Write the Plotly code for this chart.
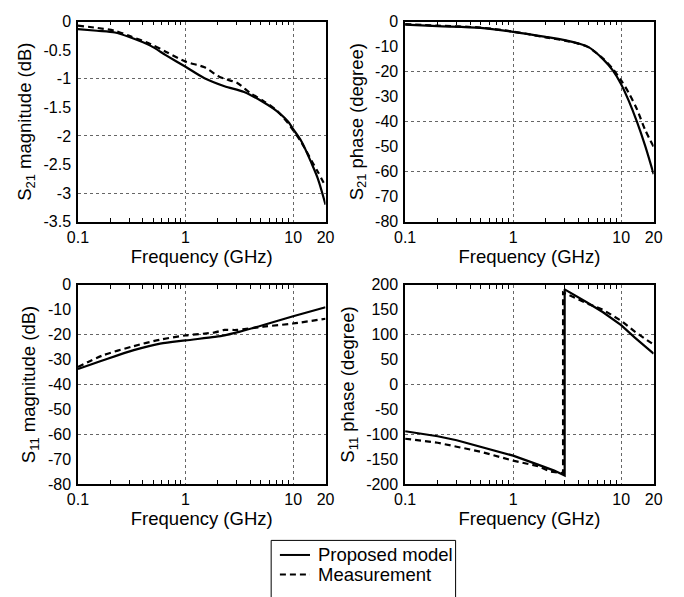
import plotly.graph_objects as go

# ---- S21 magnitude (dB) ----
f_s21mag_model = [0.1, 0.15, 0.22, 0.3, 0.47, 0.66, 1.0, 1.5, 2.3, 3.5, 5.3, 7, 9, 10, 12, 15, 17, 20]
s21mag_model = [-0.13, -0.16, -0.19, -0.27, -0.42, -0.59, -0.79, -0.99, -1.13, -1.23, -1.41,
                -1.56, -1.75, -1.88, -2.1, -2.5, -2.75, -3.2]
f_s21mag_meas = [0.1, 0.15, 0.22, 0.3, 0.47, 0.66, 1.0, 1.5, 2.0, 2.3, 3.0, 4.0, 5.3, 7, 9, 10,
                 12, 15, 17, 20]
s21mag_meas = [-0.07, -0.11, -0.16, -0.25, -0.39, -0.53, -0.70, -0.80, -0.95, -1.0, -1.07, -1.25,
               -1.39, -1.55, -1.78, -1.9, -2.12, -2.45, -2.63, -2.88]

# ---- S21 phase (degree) ----
f_s21ph = [0.1, 0.2, 0.5, 1, 2, 3, 4, 5, 6.8, 8.4, 10, 11.8, 14, 16.7, 20]
s21ph_model = [-1.2, -1.8, -2.5, -4.1, -6.1, -7.4, -8.7, -10.2, -15.0, -19.6, -25.0, -31.8, -40.0,
               -49.7, -61.0]
s21ph_meas = [-1.0, -1.6, -2.4, -4.0, -6.3, -7.6, -8.8, -10.3, -14.8, -19.0, -23.5, -28.6, -35.0,
              -43.3, -50.0]

# ---- S11 magnitude (dB) ----
f_s11mag = [0.1, 0.166, 0.33, 0.58, 1.0, 1.87, 2.3, 3.0, 5.3, 10, 20]
s11mag_model = [-33.8, -30.5, -26.2, -23.6, -22.3, -20.9, -20.3, -19.1, -16.1, -12.6, -9.0]
s11mag_meas = [-33.0, -28.5, -24.6, -22.0, -20.3, -19.1, -18.1, -18.1, -16.8, -15.5, -13.6]

# ---- S11 phase (degree) ----
f_s11ph_model = [0.1, 0.2, 0.3, 0.5, 1.0, 1.7, 2.4, 3.0, 3.0, 4.8, 6.8, 10, 13.4, 20]
s11ph_model = [-94, -104, -112, -125, -143, -161, -173, -183, 191, 165, 145, 119, 94, 62]
f_s11ph_meas = [0.1, 0.2, 0.3, 0.5, 1.0, 1.7, 2.2, 2.9, 2.9, 4.8, 6.8, 10, 13.4, 20]
s11ph_meas = [-109, -117, -125, -135, -153, -164, -175, -178, 185, 163, 150, 128, 106, 80]

# ---- axis settings ----
x_tickvals = [0.1, 1, 10, 20]
x_ticktext = ["0.1", "1", "10", "20"]
x_minor = [0.2, 0.3, 0.4, 0.5, 0.6, 0.7, 0.8, 0.9, 2, 3, 4, 5, 6, 7, 8, 9]

series_names = ["Proposed model", "Measurement"]
MEAS_DASH = "6px,4px"

panels = [
    dict(f_model=f_s21mag_model, y_model=s21mag_model, f_meas=f_s21mag_meas, y_meas=s21mag_meas,
         yrange=[-3.5, 0], ydtick=0.5, ygrid=[-1, -2, -3],
         ytitle="S<sub>21</sub> magnitude (dB)", spline=True),
    dict(f_model=f_s21ph, y_model=s21ph_model, f_meas=f_s21ph, y_meas=s21ph_meas,
         yrange=[-80, 0], ydtick=10, ygrid=[-20, -40, -60],
         ytitle="S<sub>21</sub> phase (degree)", spline=True),
    dict(f_model=f_s11mag, y_model=s11mag_model, f_meas=f_s11mag, y_meas=s11mag_meas,
         yrange=[-80, 0], ydtick=10, ygrid=[-20, -40, -60],
         ytitle="S<sub>11</sub> magnitude (dB)", spline=True),
    dict(f_model=f_s11ph_model, y_model=s11ph_model, f_meas=f_s11ph_meas, y_meas=s11ph_meas,
         yrange=[-200, 200], ydtick=50, ygrid=[-100, 0, 100],
         ytitle="S<sub>11</sub> phase (degree)", spline=False),
]

W, H = 684, 597
x_domains = [[69 / W, 324 / W], [406 / W, 662 / W]]
y_domains = [[1 - 220 / H, 1 - 14 / H], [1 - 490 / H, 1 - 285 / H]]

FONT = "Liberation Sans, Arial, sans-serif"

fig = go.Figure()
layout = dict(
    width=W, height=H,
    margin=dict(l=0, r=0, t=0, b=0),
    paper_bgcolor="white", plot_bgcolor="white",
    font=dict(family=FONT, size=16, color="black"),
    showlegend=False,
)

for i, p in enumerate(panels):
    row, col = divmod(i, 2)
    n = "" if i == 0 else str(i + 1)
    xa, ya = "x" + n, "y" + n
    shape = "spline" if p["spline"] else "linear"
    fig.add_trace(go.Scatter(
        x=p["f_model"], y=p["y_model"], mode="lines", xaxis=xa, yaxis=ya,
        line=dict(color="black", width=2.2, shape=shape, smoothing=0.8),
        name=series_names[0]))
    fig.add_trace(go.Scatter(
        x=p["f_meas"], y=p["y_meas"], mode="lines", xaxis=xa, yaxis=ya,
        line=dict(color="black", width=2.2, dash=MEAS_DASH, shape=shape, smoothing=0.8),
        name=series_names[1]))

    y0, y1 = p["yrange"]
    yticks = []
    v = y0
    while v <= y1 + 1e-9:
        yticks.append(round(v, 6))
        v += p["ydtick"]

    layout["xaxis" + n] = dict(
        type="log", range=[-1, 1.30103], domain=x_domains[col], anchor=ya,
        tickmode="array", tickvals=x_tickvals, ticktext=x_ticktext,
        ticks="", showgrid=True, gridcolor="#666", griddash="dot", gridwidth=1,
        showline=True, linecolor="black", linewidth=1.5, mirror="allticks",
        zeroline=False,
        minor=dict(tickmode="array", tickvals=x_minor, ticks="inside", ticklen=4,
                   tickcolor="black", tickwidth=1, showgrid=False),
        tickfont=dict(size=16), ticklabelstandoff=0,
        title=dict(text="Frequency (GHz)", font=dict(size=18.5), standoff=3),
    )
    layout["yaxis" + n] = dict(
        range=[y0, y1], domain=y_domains[row], anchor=xa,
        tickmode="array", tickvals=yticks,
        ticktext=[("%g" % t) for t in yticks],
        ticks="", showgrid=False,
        showline=True, linecolor="black", linewidth=1.5, mirror=True,
        zeroline=False,
        minor=dict(tickmode="array", tickvals=p["ygrid"], ticks="", showgrid=True,
                   gridcolor="#666", griddash="dot", gridwidth=1),
        tickfont=dict(size=16), ticklabelstandoff=2,
        title=dict(text=p["ytitle"], font=dict(size=18.5), standoff=7),
    )

fig.update_layout(**layout)

# ---- shared legend box below the panels (its lower edge runs past the page) ----
def px_x(px):
    return px / W


def px_y(py):
    return 1 - py / H


shapes = [dict(type="rect", xref="paper", yref="paper",
               x0=px_x(268), x1=px_x(458), y0=px_y(615), y1=px_y(548),
               line=dict(color="black", width=1), fillcolor="white", layer="above")]
annotations = []
legend_rows = [(563, None), (583, MEAS_DASH)]
for (py, dash), label in zip(legend_rows, series_names):
    line = dict(color="black", width=2)
    if dash:
        line["dash"] = dash
    shapes.append(dict(type="line", xref="paper", yref="paper",
                       x0=px_x(277), x1=px_x(308), y0=px_y(py), y1=px_y(py),
                       line=line, layer="above"))
    annotations.append(dict(xref="paper", yref="paper", x=px_x(314), y=px_y(py),
                            xanchor="left", yanchor="middle", showarrow=False,
                            text=label, font=dict(size=18.5, family=FONT, color="black")))

fig.update_layout(shapes=shapes, annotations=annotations)
fig.write_html("out.html")
